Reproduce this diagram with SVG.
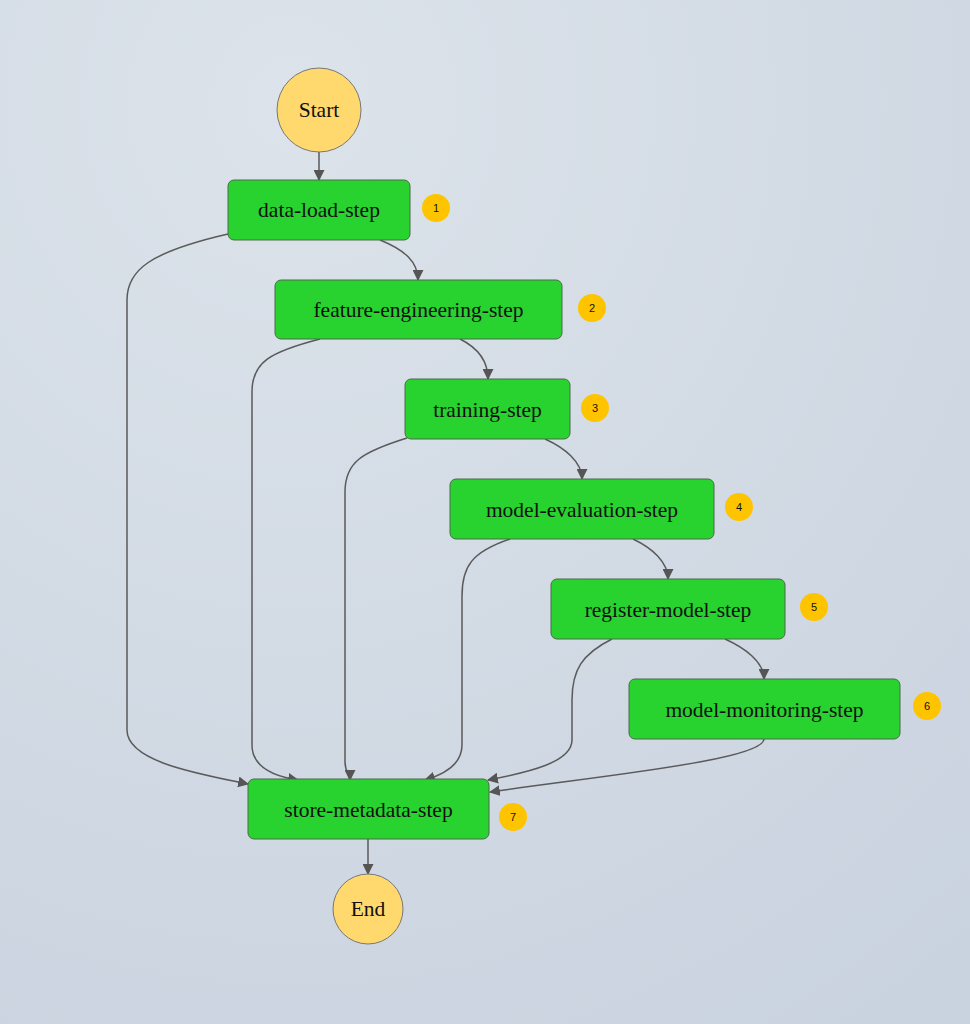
<svg xmlns="http://www.w3.org/2000/svg" width="970" height="1024" viewBox="0 0 970 1024">
<defs>
<radialGradient id="bg" cx="0.3" cy="0.1" r="1.1"><stop offset="0" stop-color="#dce3ea"/><stop offset="1" stop-color="#c9d2df"/></radialGradient>
<marker id="ar" viewBox="0 0 10 10" refX="9" refY="5" markerWidth="11" markerHeight="11" markerUnits="userSpaceOnUse" orient="auto"><path d="M0,0 L10,5 L0,10 z" fill="#555"/></marker>
</defs>
<style>
.n rect{fill:#28d22f;stroke:#4a6a4a;stroke-width:1}
.c circle{fill:#ffd86e;stroke:#777;stroke-width:1}
text{font-family:"Liberation Serif",serif;font-size:21.5px;fill:#111;text-anchor:middle;dominant-baseline:central}
.b circle{fill:#ffc400}
.b text{font-family:"Liberation Sans",sans-serif;font-size:11px}
#edges path{fill:none;stroke:#5a5a5a;stroke-width:1.5;marker-end:url(#ar)}
</style>
<rect width="970" height="1024" fill="url(#bg)"/>
<g id="edges">
<path d="M319,152 L319,180"/>
<path d="M380,240 C405,250 418,262 418,280"/>
<path d="M228,234 C150,252 127,270 127,300 L127,730 C127,762 200,774 248,784"/>
<path d="M460,339 C478,348 488,362 488,379"/>
<path d="M320,339 C270,352 252,362 252,392 L252,745 C252,766 272,776 298,780"/>
<path d="M545,439 C565,448 582,462 582,479"/>
<path d="M407,438 C362,452 345,462 345,492 L345,762 C345,772 350,776 350,780"/>
<path d="M633,539 C652,548 668,562 668,579"/>
<path d="M510,539 C472,552 462,566 462,596 L462,745 C462,765 442,775 425,780"/>
<path d="M725,639 C745,648 764,662 764,679"/>
<path d="M612,639 C582,654 572,670 572,700 L572,740 C572,762 530,772 488,780"/>
<path d="M764,739 C764,760 600,776 490,792"/>
<path d="M368,839 L368,874"/>
</g>
<g id="start" class="c"><circle cx="319" cy="110" r="42"/><text x="319" y="110">Start</text></g>
<g id="n1" class="n"><rect x="228" y="180" width="182" height="60" rx="6"/><text x="319" y="210">data-load-step</text></g>
<g id="n2" class="n"><rect x="275" y="280" width="287" height="59" rx="6"/><text x="418.5" y="310">feature-engineering-step</text></g>
<g id="n3" class="n"><rect x="405" y="379" width="165" height="60" rx="6"/><text x="487.5" y="410">training-step</text></g>
<g id="n4" class="n"><rect x="450" y="479" width="264" height="60" rx="6"/><text x="582" y="510">model-evaluation-step</text></g>
<g id="n5" class="n"><rect x="551" y="579" width="234" height="60" rx="6"/><text x="668" y="610">register-model-step</text></g>
<g id="n6" class="n"><rect x="629" y="679" width="271" height="60" rx="6"/><text x="764.5" y="710">model-monitoring-step</text></g>
<g id="n7" class="n"><rect x="248" y="779" width="241" height="60" rx="6"/><text x="368.5" y="810">store-metadata-step</text></g>
<g id="end" class="c"><circle cx="368" cy="909" r="35"/><text x="368" y="909">End</text></g>
<g id="badges" class="b">
<circle cx="436" cy="208" r="14"/><text x="436" y="208">1</text>
<circle cx="592" cy="308" r="14"/><text x="592" y="308">2</text>
<circle cx="595" cy="408" r="14"/><text x="595" y="408">3</text>
<circle cx="739" cy="507" r="14"/><text x="739" y="507">4</text>
<circle cx="814" cy="607" r="14"/><text x="814" y="607">5</text>
<circle cx="927" cy="706" r="14"/><text x="927" y="706">6</text>
<circle cx="513" cy="817" r="14"/><text x="513" y="817">7</text>
</g>
</svg>
